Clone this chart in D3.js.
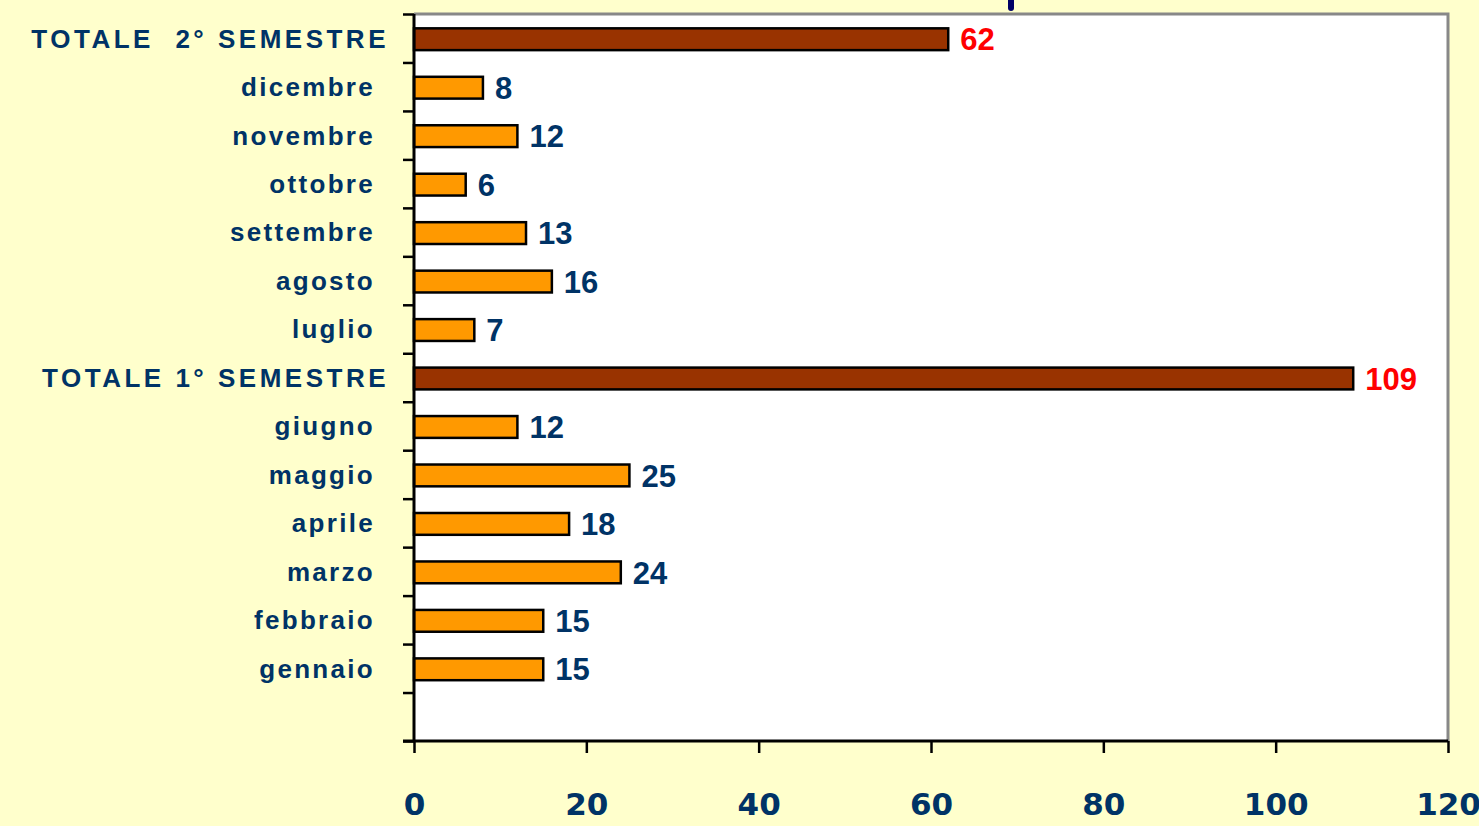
<!DOCTYPE html>
<html>
<head>
<meta charset="utf-8">
<script src="https://cdn.jsdelivr.net/npm/d3@7"></script>
<style>
  body { margin: 0; background: #FFFFCC; }
  svg { display: block; }
</style>
</head>
<body>
<svg id="canvas"></svg>
<script>
// categories top to bottom (last one is an empty slot)
let categories = ["TOTALE  2° SEMESTRE", "dicembre", "novembre", "ottobre", "settembre", "agosto", "luglio",
                  "TOTALE 1° SEMESTRE", "giugno", "maggio", "aprile", "marzo", "febbraio", "gennaio", ""];
let values = [62, 8, 12, 6, 13, 16, 7, 109, 12, 25, 18, 24, 15, 15, null];
let isTotal = [true, false, false, false, false, false, false, true, false, false, false, false, false, false, false];
let xTicks = [0, 20, 40, 60, 80, 100, 120];

let width = 1479;
let height = 826;
let plotLeft = 414, plotRight = 1448, plotTop = 14, plotBottom = 741;

let canvas = d3.select("#canvas")
canvas.attr("width", width).attr("height", height)

canvas.append("rect")
    .attr("width", width).attr("height", height)
    .attr("fill", "#FFFFCC")

let xScale = d3.scaleLinear().domain([0, 120]).range([plotLeft, plotRight])
let yScale = d3.scaleBand().domain(d3.range(categories.length)).range([plotTop, plotBottom]).paddingInner(0.55).paddingOuter(0.275)

// plot area
canvas.append("rect")
    .attr("x", plotLeft).attr("y", plotTop)
    .attr("width", plotRight - plotLeft).attr("height", plotBottom - plotTop)
    .attr("fill", "white")

canvas.append("path")
    .attr("d", `M${plotLeft},${plotTop}H${plotRight}V${plotBottom}`)
    .attr("fill", "none")
    .attr("stroke", "#888888")
    .attr("stroke-width", 3)

// little stub at top
canvas.append("line")
    .attr("x1", 1011).attr("x2", 1011).attr("y1", -5).attr("y2", 8)
    .attr("stroke", "#000066").attr("stroke-width", 6).attr("stroke-linecap", "round")

// bars
let rows = categories.map((c, i) => ({ c: c, v: values[i], total: isTotal[i], i: i })).filter(d => d.v != null)

canvas.selectAll(".bar")
    .data(rows)
    .enter()
    .append("rect")
    .attr("class", "bar")
    .attr("x", xScale(0))
    .attr("y", d => yScale(d.i) + 1)
    .attr("width", d => xScale(d.v) - xScale(0))
    .attr("height", yScale.bandwidth())
    .attr("fill", d => d.total ? "#993300" : "#FF9900")
    .attr("stroke", "black")
    .attr("stroke-width", 2.5)

canvas.selectAll(".val")
    .data(rows)
    .enter()
    .append("text")
    .attr("class", "val")
    .attr("x", d => xScale(d.v) + 12)
    .attr("y", d => yScale(d.i) + yScale.bandwidth() / 2 + 1)
    .attr("dy", "0.36em")
    .attr("font-family", "Liberation Sans, Arial, sans-serif")
    .attr("font-weight", "bold")
    .attr("font-size", "31px")
    .attr("fill", d => d.total ? "#FF0000" : "#003366")
    .text(d => d.v)

// category labels
canvas.selectAll(".cat")
    .data(rows)
    .enter()
    .append("text")
    .attr("class", "cat")
    .attr("x", d => d.total ? 389 : 375)
    .attr("y", d => yScale(d.i) + yScale.bandwidth() / 2)
    .attr("dy", "0.36em")
    .attr("text-anchor", "end")
    .attr("font-family", "Liberation Sans, Arial, sans-serif")
    .attr("font-weight", "bold")
    .attr("font-size", "26px")
    .attr("letter-spacing", d => d.total ? "3.5px" : "2.3px")
    .style("white-space", "pre")
    .attr("fill", "#003366")
    .text(d => d.c)

// y axis with ticks between categories
let yAxisScale = d3.scaleLinear().domain([0, categories.length]).range([plotTop, plotBottom])
let yAxis = d3.axisLeft(yAxisScale).tickValues(d3.range(categories.length + 1)).tickSize(11).tickFormat("")
let gy = canvas.append("g")
    .attr("transform", `translate(${plotLeft}, 0)`)
    .call(yAxis)
gy.select(".domain").remove()
gy.selectAll("line").attr("stroke", "black").attr("stroke-width", 2.5)
canvas.append("line")
    .attr("x1", plotLeft).attr("x2", plotLeft).attr("y1", plotTop).attr("y2", plotBottom)
    .attr("stroke", "black").attr("stroke-width", 3)

// x axis
let xAxis = d3.axisBottom(xScale).tickValues(xTicks).tickSize(12).tickPadding(40)
let gx = canvas.append("g")
    .attr("transform", `translate(0, ${plotBottom})`)
    .call(xAxis)
gx.select(".domain").remove()
gx.selectAll("line").attr("stroke", "black").attr("stroke-width", 2.5)
gx.selectAll("text")
    .attr("font-family", "DejaVu Sans, sans-serif")
    .attr("font-weight", "bold")
    .attr("font-size", "31px")
    .attr("fill", "#003366")
canvas.append("line")
    .attr("x1", plotLeft - 11).attr("x2", plotRight).attr("y1", plotBottom).attr("y2", plotBottom)
    .attr("stroke", "black").attr("stroke-width", 3)
</script>
</body>
</html>
